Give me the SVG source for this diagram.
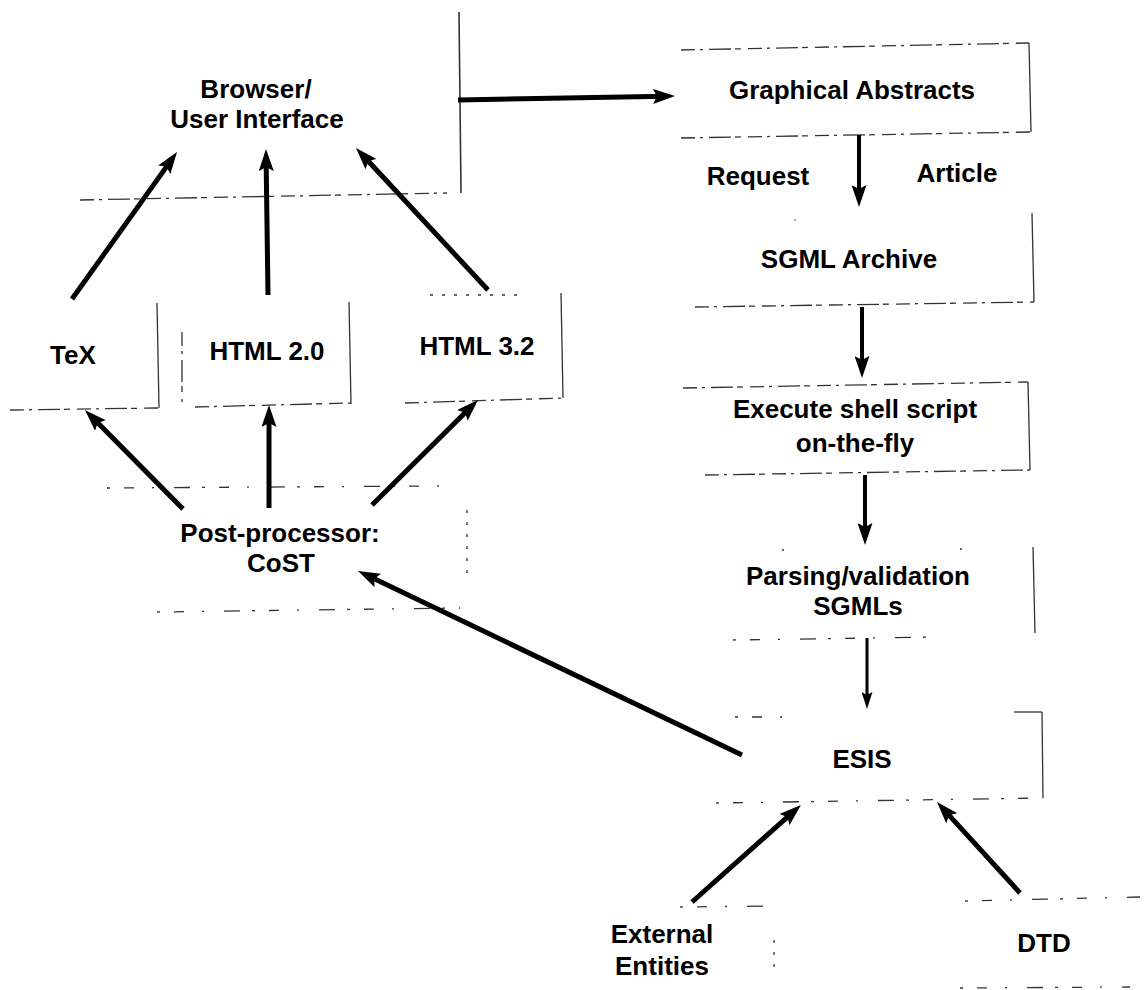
<svg xmlns="http://www.w3.org/2000/svg" width="1144" height="990" viewBox="0 0 1144 990">
  <style>
    .lbl { font-family: "Liberation Sans", Arial, Helvetica, sans-serif; font-weight: bold; font-size: 26px; fill: #000; text-anchor: middle; }
    .edge { fill: none; stroke: #333; stroke-width: 1.3; }
    .dash1 { stroke-dasharray: 14 5 3 6 22 4 6 7; }
    .dash2 { stroke-dasharray: 3 14 10 18 2 20 16 12; }
    .dot { stroke-dasharray: 3 9; }
    .arrow { fill: none; stroke: #000; stroke-width: 5; stroke-linecap: butt; marker-end: url(#ah); }
    .arrow4 { fill: none; stroke: #000; stroke-width: 4; marker-end: url(#ah); }
    .arrow3 { fill: none; stroke: #000; stroke-width: 3; marker-end: url(#ahs); }
  </style>
  <defs>
    <marker id="ah" viewBox="0 0 22 15" refX="12" refY="7.5" markerWidth="22" markerHeight="15" markerUnits="userSpaceOnUse" orient="auto">
      <path d="M0,0 L22,7.5 L0,15 L4,7.5 z" fill="#000"/>
    </marker>
    <marker id="ahs" viewBox="0 0 17 11" refX="9" refY="5.5" markerWidth="17" markerHeight="11" markerUnits="userSpaceOnUse" orient="auto">
      <path d="M0,0 L17,5.5 L0,11 L3,5.5 z" fill="#000"/>
    </marker>
  </defs>
  <rect width="1144" height="990" fill="#fff"/>

  <g id="browser">
    <path class="edge" d="M459,12 L461,193" style="stroke-width:1.6"/>
    <path class="edge dash1" d="M80,200 L447,193"/>
    <text class="lbl" x="256" y="98">Browser/</text>
    <text class="lbl" x="257" y="128">User Interface</text>
  </g>

  <g id="graphical">
    <path class="edge dash1" d="M681,50 L1029,43"/>
    <path class="edge" d="M1029,43 L1031,132"/>
    <path class="edge dash1" d="M681,138 L1031,132"/>
    <text class="lbl" x="852" y="99">Graphical Abstracts</text>
  </g>

  <g id="labels">
    <text class="lbl" x="758" y="185">Request</text>
    <text class="lbl" x="957" y="182">Article</text>
  </g>

  <g id="sgml-archive">
    <path class="edge" d="M1032,213 L1034,302"/>
    <path class="edge dash1" d="M695,307 L1034,302"/>
    <circle cx="795" cy="220" r="0.8" fill="#555"/>
    <text class="lbl" x="849" y="268">SGML Archive</text>
  </g>

  <g id="execute">
    <path class="edge dash1" d="M683,388 L1028,382"/>
    <path class="edge" d="M1028,382 L1030,470"/>
    <path class="edge dash1" d="M705,475 L1030,470"/>
    <text class="lbl" x="855" y="418">Execute shell script</text>
    <text class="lbl" x="855" y="452">on-the-fly</text>
  </g>

  <g id="parsing">
    <path class="edge dot" d="M782,550 L962,549" style="stroke-dasharray:2 176"/>
    <path class="edge" d="M1033,547 L1035,633"/>
    <path class="edge dash2" d="M733,640 L940,637"/>
    <text class="lbl" x="858" y="585">Parsing/validation</text>
    <text class="lbl" x="858" y="615">SGMLs</text>
  </g>

  <g id="esis">
    <path class="edge dash2" d="M735,717 L790,717"/>
    <path class="edge" d="M1014,712 L1042,712"/>
    <path class="edge" d="M1042,712 L1043,798"/>
    <path class="edge dash2" d="M716,803 L1043,798"/>
    <text class="lbl" x="862" y="768">ESIS</text>
  </g>

  <g id="tex">
    <path class="edge" d="M157,303 L159,408"/>
    <path class="edge dash1" d="M10,410 L159,408"/>
    <text class="lbl" x="73" y="364">TeX</text>
  </g>

  <g id="html20">
    <path class="edge dash1" d="M182,332 L182,402"/>
    <path class="edge" d="M349,302 L351,404"/>
    <path class="edge dash1" d="M195,407 L351,403"/>
    <text class="lbl" x="267" y="360">HTML 2.0</text>
  </g>

  <g id="html32">
    <path class="edge dot" d="M430,295 L520,295"/>
    <path class="edge" d="M561,293 L563,398"/>
    <path class="edge dash1" d="M405,403 L563,398"/>
    <text class="lbl" x="477" y="355">HTML 3.2</text>
  </g>

  <g id="postprocessor">
    <path class="edge dash2" d="M107,488 L443,486"/>
    <path class="edge dot" d="M467,510 L467,577"/>
    <path class="edge dash2" d="M157,612 L460,608"/>
    <text class="lbl" x="280" y="542">Post-processor:</text>
    <text class="lbl" x="281" y="572">CoST</text>
  </g>

  <g id="external">
    <path class="edge dash2" d="M680,907 L773,906"/>
    <path class="edge dot" d="M774,940 L774,976"/>
    <text class="lbl" x="662" y="943">External</text>
    <text class="lbl" x="662" y="975">Entities</text>
  </g>

  <g id="dtd">
    <path class="edge dash2" d="M965,901 L1140,897"/>
    <path class="edge dash2" d="M960,988 L1130,987"/>
    <text class="lbl" x="1044" y="952">DTD</text>
  </g>

  <g id="connectors">
    <line class="arrow" x1="72" y1="299" x2="171.2" y2="160.1"/>
    <line class="arrow" x1="268" y1="295" x2="266.1" y2="159"/>
    <line class="arrow" x1="488" y1="290" x2="362.8" y2="155.3"/>
    <line class="arrow" x1="458" y1="100" x2="665" y2="96.2"/>
    <line class="arrow4" x1="859" y1="135" x2="859" y2="197"/>
    <line class="arrow4" x1="862" y1="307" x2="862" y2="368"/>
    <line class="arrow4" x1="865" y1="475" x2="865" y2="535"/>
    <line class="arrow3" x1="867" y1="638" x2="867" y2="701"/>
    <line class="arrow" x1="692" y1="902" x2="793.5" y2="811.6"/>
    <line class="arrow" x1="1020" y1="893" x2="943.7" y2="809.4"/>
    <line class="arrow" x1="742" y1="755" x2="367" y2="575.3"/>
    <line class="arrow" x1="183" y1="509" x2="92" y2="417.1"/>
    <line class="arrow" x1="269" y1="508" x2="269" y2="415"/>
    <line class="arrow" x1="372" y1="505" x2="470.9" y2="407"/>
  </g>
</svg>
